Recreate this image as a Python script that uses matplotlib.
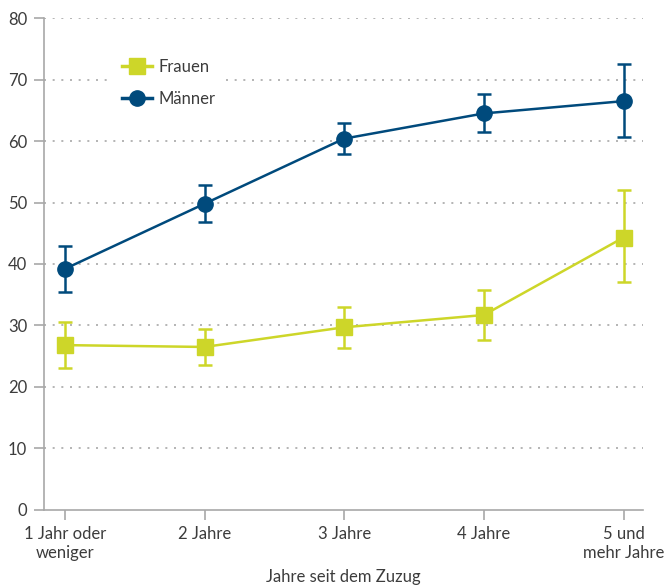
import matplotlib.pyplot as plt
from matplotlib.lines import Line2D
import numpy as np

# Daten
kategorien = ["1 Jahr oder\nweniger", "2 Jahre", "3 Jahre", "4 Jahre", "5 und\nmehr Jahre"]
frauen = [26.8, 26.5, 29.7, 31.7, 44.3]
frauen_oben = [30.5, 29.5, 33.0, 35.7, 52.0]
frauen_unten = [23.0, 23.6, 26.4, 27.7, 37.0]
maenner = [39.2, 49.8, 60.4, 64.5, 66.5]
maenner_oben = [43.0, 52.8, 63.0, 67.6, 72.5]
maenner_unten = [35.4, 46.8, 57.9, 61.5, 60.6]
y_ticks = [0, 10, 20, 30, 40, 50, 60, 70, 80]

FARBE_FRAUEN = "#cdd629"
FARBE_MAENNER = "#004a7c"
GRAU = "#a8a8a8"
TEXT = "#3c3c3c"

plt.rcParams['font.family'] = ['Lato', 'DejaVu Sans']

fig = plt.figure(figsize=(6.65, 5.86), dpi=100)
ax = fig.add_axes([0.066, 0.130, 0.901, 0.839])

x = np.arange(len(kategorien))

# Gitterlinien
for y in y_ticks[1:]:
    ax.axhline(y, color=GRAU, linestyle=(0, (1.2, 4)), linewidth=1.2, zorder=0)


def zeichne(werte, oben, unten, farbe, marker):
    werte = np.array(werte)
    fehler = [werte - np.array(unten), np.array(oben) - werte]
    ax.errorbar(x, werte, yerr=fehler, color=farbe, marker=marker,
                markersize=11, linewidth=1.8, elinewidth=1.8, capsize=5,
                capthick=1.8, zorder=3)
    return Line2D([], [], color=farbe, marker=marker, markersize=11, linewidth=2.5)


h_frauen = zeichne(frauen, frauen_oben, frauen_unten, FARBE_FRAUEN, "s")
h_maenner = zeichne(maenner, maenner_oben, maenner_unten, FARBE_MAENNER, "o")

ax.set_xlim(-0.15, 4.14)
ax.set_ylim(0, 80)
ax.set_yticks(y_ticks)
ax.set_xticks(x)
ax.set_xticklabels(kategorien, fontsize=12, color=TEXT)
ax.set_yticklabels([str(v) for v in y_ticks], fontsize=12, color=TEXT)
ax.tick_params(axis='both', color=GRAU, width=1.2, length=7)
ax.tick_params(axis='x', pad=5)
ax.tick_params(axis='y', pad=5)

for s in ["top", "right"]:
    ax.spines[s].set_visible(False)
for s in ["left", "bottom"]:
    ax.spines[s].set_color(GRAU)
    ax.spines[s].set_linewidth(1.2)

ax.set_xlabel("Jahre seit dem Zuzug", fontsize=12, color=TEXT, labelpad=6)

leg = ax.legend([h_frauen, h_maenner], ["Frauen", "Männer"],
                loc="upper left", bbox_to_anchor=(0.10, 0.955), frameon=True,
                fontsize=12, handlelength=1.8, labelspacing=1.0,
                borderpad=0.6, handletextpad=0.4)
leg.get_frame().set_facecolor("white")
leg.get_frame().set_edgecolor("none")
leg.get_frame().set_alpha(1)
for t in leg.get_texts():
    t.set_color(TEXT)

fig.savefig("out.png", dpi=100)
